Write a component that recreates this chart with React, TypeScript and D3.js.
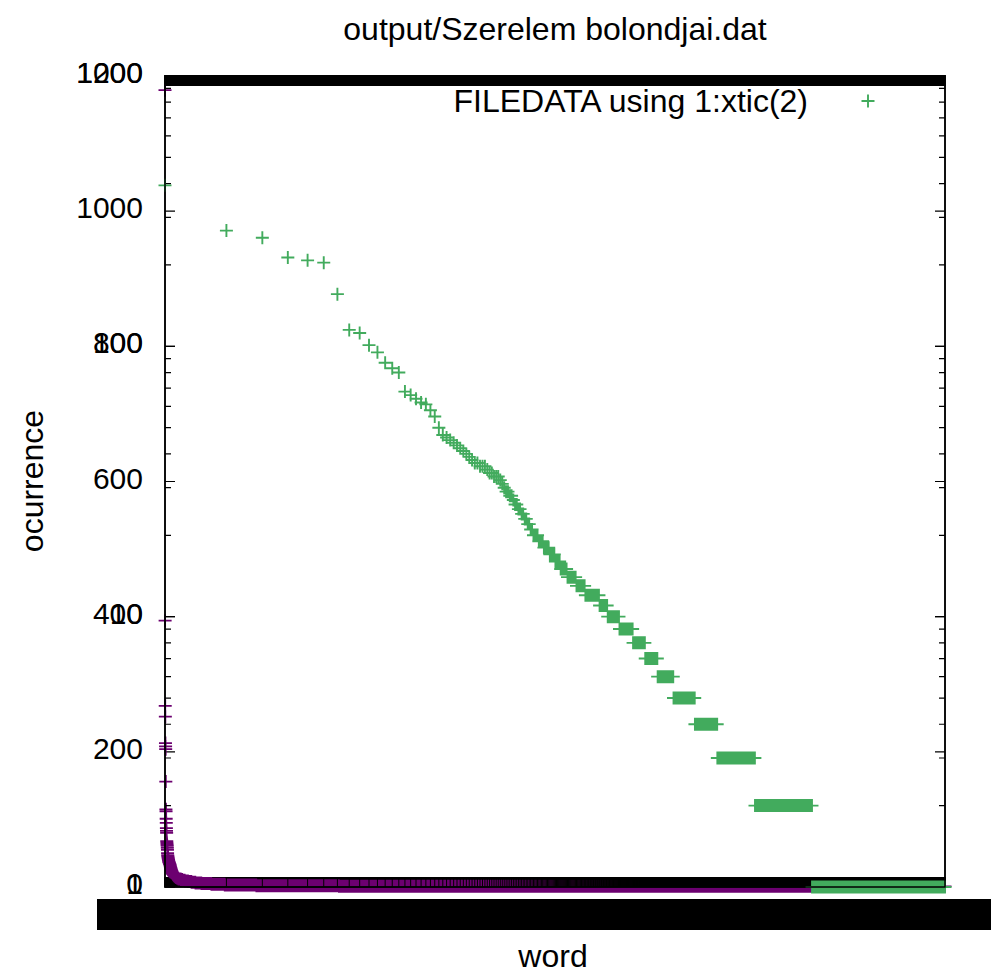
import React, { useEffect, useRef } from 'react';
import * as d3 from 'd3';

const title = 'output/Szerelem bolondjai.dat';
const keyTitle = 'FILEDATA using 1:xtic(2)';
const xLabel = 'word';
const yLabel = 'ocurrence';

// word counts of the most frequent words, in rank order
const topCounts = [
  1179, 394, 268, 252, 213, 208, 204, 156, 115, 112, 101, 95, 87, 83, 80, 68,
  66, 64, 62, 61, 58, 55, 50, 47, 46, 45, 44, 43, 42, 41, 40, 39,
  38, 37, 37, 36, 36, 36, 35, 34, 34, 33, 33, 33, 32, 31, 30, 29,
  29, 28, 28, 27, 26, 26, 25, 25, 24, 24, 23, 23, 22, 22, 21, 21,
];
// rest of the list: [count, number of words with that count]
const countGroups = [
  [20, 4], [19, 4], [18, 5], [17, 5], [16, 5], [15, 7], [14, 10], [13, 11],
  [12, 20], [11, 13], [10, 21], [9, 28], [8, 29], [7, 34], [6, 51], [5, 85],
  [4, 114], [3, 270], [2, 705], [1, 5176],
];

// first plot: linear y; second plot: log y (multiplot, drawn on top)
const linearTicks = [0, 200, 400, 600, 800, 1000, 1200];
const logTicks = [1, 10, 100, 1000];

const purple = '#6c0070';
const green = '#42ab5d';
const font = '"Liberation Sans", Arial, sans-serif';

const App = () => {
  const ref = useRef<SVGSVGElement>(null);

  useEffect(() => {
    const counts: number[] = topCounts.concat(
      ...countGroups.map(([c, k]) => Array(k).fill(c))
    );
    const n = counts.length;
    const rows = d3.range(n);

    const left = 165, right = 945, top = 76, bottom = 887;

    const xLin = d3.scaleLinear().domain([0, n - 1]).range([left, right]);
    const xLog = d3.scaleLog().domain([1, n - 1]).range([left, right]);
    const yLin = d3.scaleLinear().domain([0, 1200]).range([bottom, top]);
    const yLog = d3.scaleLog().domain([1, 1000]).range([bottom, top]);

    const cross = (pts: number[][], s = 6.5) =>
      pts.map(([x, y]) => `M${x - s},${y}h${2 * s}M${x},${y - s}v${2 * s}`).join('');
    const vTicks = (xs: number[], y0: number, y1: number) =>
      xs.map(x => `M${x},${y0}V${y1}`).join('');
    const hTicks = (ys: number[], len: number) =>
      ys.map(y => `M${left},${y}h${len}M${right},${y}h${-len}`).join('');

    const svg = d3.select(ref.current);
    svg.selectAll('*').remove();

    svg.append('rect').attr('width', 991).attr('height', 974).attr('fill', '#fff');

    // ---- plot 1 (linear) ----
    // xtic at every row, top and bottom
    svg.append('path')
      .attr('d', vTicks(rows.map(r => xLin(r)), bottom, bottom - 10) + vTicks(rows.map(r => xLin(r)), top - 1, top + 10))
      .attr('stroke', '#000').attr('stroke-width', 1).attr('fill', 'none');
    svg.append('path')
      .attr('d', hTicks(linearTicks.map(t => yLin(t)), 10))
      .attr('stroke', '#000').attr('stroke-width', 1.2);

    // overlapping xtic labels (one word per row) make a solid band
    svg.append('rect')
      .attr('x', 97).attr('y', 899).attr('width', 991 - 97).attr('height', 31)
      .attr('fill', '#000');

    const yLabels = svg.append('g')
      .attr('font-family', font).attr('font-size', 30).attr('text-anchor', 'end');
    yLabels.selectAll('text.lin').data(linearTicks).join('text')
      .attr('class', 'lin')
      .attr('x', 143).attr('y', d => yLin(d) + 7).text(d => d);

    svg.append('path')
      .attr('d', cross(rows.map(r => [xLin(r), yLin(counts[r])])))
      .attr('stroke', purple).attr('stroke-width', 1.8).attr('fill', 'none');

    svg.append('rect')
      .attr('x', left).attr('y', top).attr('width', right - left).attr('height', bottom - top)
      .attr('fill', 'none').attr('stroke', '#000').attr('stroke-width', 1.5);

    // ---- plot 2 (log-log) ----
    const logRows = rows.filter(r => r >= 1);
    svg.append('path')
      .attr('d', vTicks(logRows.map(r => xLog(r)), bottom, bottom - 10))
      .attr('stroke', '#000').attr('stroke-width', 1).attr('fill', 'none');
    const minor: number[] = [];
    [1, 10, 100].forEach(d => d3.range(2, 10).forEach(k => minor.push(d * k)));
    svg.append('path')
      .attr('d', hTicks(logTicks.map(t => yLog(t)), 10) + hTicks(minor.map(t => yLog(t)), 6))
      .attr('stroke', '#000').attr('stroke-width', 1.2);
    yLabels.selectAll('text.log').data(logTicks).join('text')
      .attr('class', 'log')
      .attr('x', 143).attr('y', d => yLog(d) + 7).text(d => d);

    svg.append('path')
      .attr('d', cross(logRows.map(r => [xLog(r), yLog(counts[r])])))
      .attr('stroke', green).attr('stroke-width', 1.9).attr('fill', 'none');

    svg.append('rect')
      .attr('x', left).attr('y', top).attr('width', right - left).attr('height', bottom - top)
      .attr('fill', 'none').attr('stroke', '#000').attr('stroke-width', 1.5);

    // key (both plots print the same entry in the same spot)
    svg.append('text')
      .attr('x', 808).attr('y', 112).attr('text-anchor', 'end')
      .attr('font-family', font).attr('font-size', 32).text(keyTitle);
    svg.append('path')
      .attr('d', cross([[868, 101]]))
      .attr('stroke', green).attr('stroke-width', 1.9);

    // titles
    svg.append('text')
      .attr('x', (left + right) / 2).attr('y', 40).attr('text-anchor', 'middle')
      .attr('font-family', font).attr('font-size', 32).text(title);
    svg.append('text')
      .attr('x', 553).attr('y', 967).attr('text-anchor', 'middle')
      .attr('font-family', font).attr('font-size', 32).text(xLabel);
    svg.append('text')
      .attr('transform', 'translate(43,481) rotate(-90)').attr('text-anchor', 'middle')
      .attr('font-family', font).attr('font-size', 32).text(yLabel);
  }, []);

  return (
    <svg ref={ref} width={991} height={974}
      style={{ position: 'absolute', left: 0, top: 0, display: 'block' }} />
  );
};

export default App;
